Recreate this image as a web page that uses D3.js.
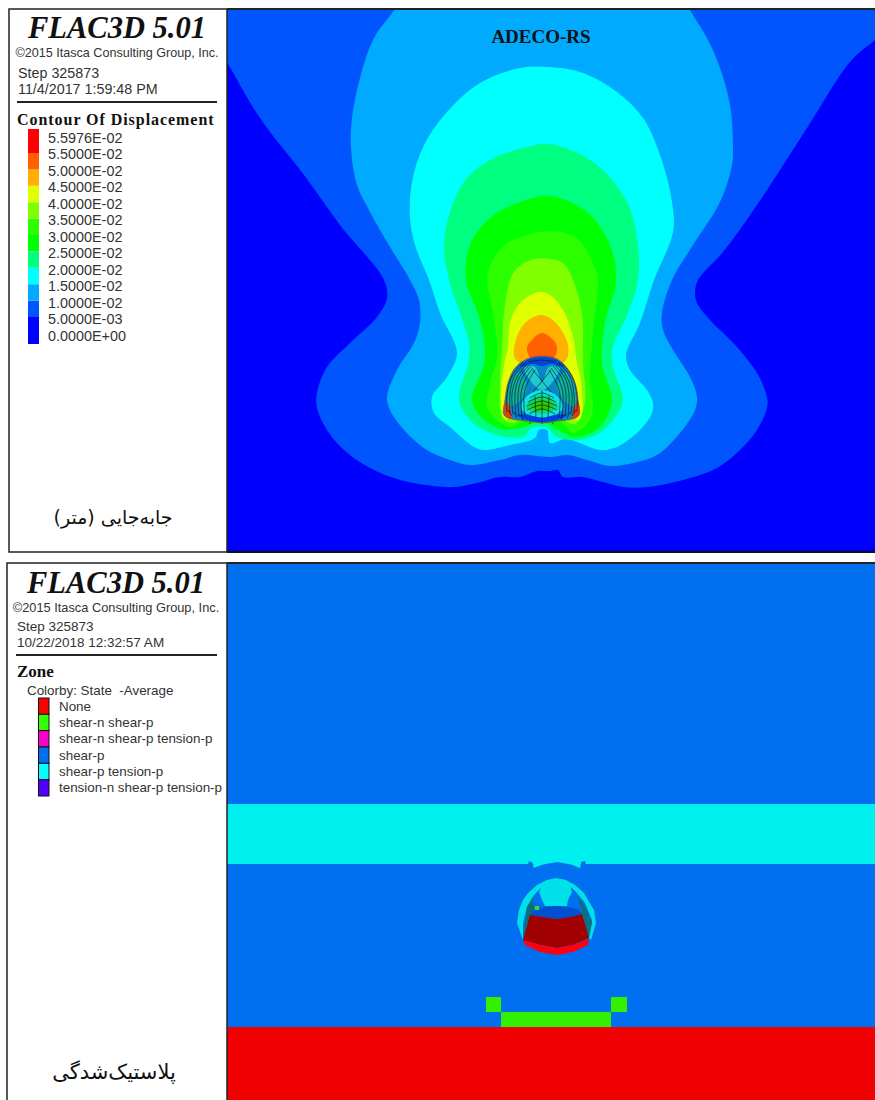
<!DOCTYPE html>
<html>
<head>
<meta charset="utf-8">
<script src="https://cdn.jsdelivr.net/npm/d3@7"></script>
<style>
	html, body { margin:0; padding:0; background:#fff; }
	svg { display:block; }
	.sans { font-family:"Liberation Sans",Arial,sans-serif; fill:#333; }
	.serif { font-family:"Liberation Serif",serif; fill:#111; font-weight:bold; }
	.fa { font-family:"DejaVu Sans",sans-serif; fill:#111; }
</style>
</head>
<body>
<div id="force_layout"></div>
<script>
// legend of the displacement panel
var contour_labels = ['5.5976E-02','5.5000E-02','5.0000E-02','4.5000E-02','4.0000E-02','3.5000E-02','3.0000E-02','2.5000E-02','2.0000E-02','1.5000E-02','1.0000E-02','5.0000E-03','0.0000E+00'];
var contour_breaks = [0,0.005,0.01,0.015,0.02,0.025,0.03,0.035,0.04,0.045,0.05,0.055,0.055976];
var contour_colors = ['#0000ff','#0055ff','#00aaff','#00ffff','#00ff80','#00ff00','#2bff00','#80ff00','#e0ff00','#ffb000','#ff6000','#ff0000'];

// contour outlines (model units, origin top left of panel)
var level_005 = [[-30,0],[-40,-30],[688,-30],[680,5],[648,30],[623,52],[580,118],[530,195],[496,242],[471,270],[468,283],[470,293],[483,310],[510,337],[530,363],[540,387],[540,398],[530,420],[513,440],[490,458],[456,470],[420,477],[396,477],[376,472],[356,467],[336,467],[331,460],[323,461],[310,461],[293,467],[273,467],[250,473],[227,477],[207,476],[173,470],[143,458],[117,440],[100,420],[90,398],[90,383],[100,357],[123,333],[150,307],[160,288],[157,270],[113,215],[77,165],[33,108],[0,52]];
var level_010 = [[182,-30],[167,0],[147,28],[133,68],[125,108],[124,138],[130,175],[143,202],[160,232],[183,270],[192,290],[193,313],[187,333],[170,360],[160,387],[163,400],[177,420],[200,440],[223,450],[243,455],[273,450],[293,445],[323,447],[341,445],[360,450],[383,456],[406,453],[430,445],[453,423],[468,400],[470,387],[463,367],[446,340],[436,320],[435,303],[445,270],[466,235],[493,192],[505,155],[506,135],[503,95],[493,58],[480,28],[463,0],[448,-30]];
var level_015 = [[323,57],[293,58],[253,73],[220,102],[197,135],[185,172],[183,208],[188,235],[202,270],[213,303],[230,343],[220,367],[205,387],[207,403],[223,417],[247,437],[257,440],[283,435],[308,428],[312,420],[320,420],[323,433],[339,429],[373,440],[390,437],[413,420],[425,403],[426,393],[420,380],[403,360],[399,345],[413,313],[427,270],[446,222],[445,192],[433,145],[416,108],[390,82],[356,63]];
var level_020 = [[323,134],[300,137],[267,148],[240,168],[223,202],[217,235],[222,270],[233,303],[242,333],[242,350],[232,390],[246,413],[270,425],[296,427],[305,418],[320,418],[330,427],[353,430],[373,423],[386,410],[396,390],[386,357],[386,337],[401,303],[411,270],[411,235],[400,192],[366,152]];
var level_025 = [[323,186],[293,192],[263,208],[243,235],[239,270],[253,310],[258,350],[245,390],[255,408],[275,419],[292,418],[315,412],[335,422],[346,427],[366,422],[378,410],[385,390],[375,353],[378,313],[389,270],[383,235],[360,202]];
var level_030 = [[323,221],[300,225],[277,235],[262,258],[260,270],[267,310],[270,347],[263,373],[260,397],[270,410],[283,417],[300,410],[330,410],[340,418],[346,423],[363,410],[366,393],[363,373],[365,333],[371,270],[368,258],[350,228]];
var level_035 = [[323,249],[307,249],[290,258],[283,270],[277,303],[275,337],[273,370],[275,407],[283,413],[300,408],[330,408],[345,414],[350,413],[358,393],[356,353],[355,303],[346,270],[336,253]];
var level_040 = [[323,285],[312,282],[293,293],[283,313],[281,337],[277,355],[274,385],[278,409],[300,400],[330,400],[352,410],[355,380],[349,347],[346,327],[336,300]];
var level_045 = [[323,308],[313,305],[298,313],[288,333],[289,350],[320,358],[339,350],[341,335],[333,318]];
var level_050 = [[315,323],[305,330],[300,338],[305,350],[325,350],[330,340],[328,332]];
var contour_levels = [level_005,level_010,level_015,level_020,level_025,level_030,level_035,level_040,level_045,level_050];

// tunnel section: outline and the small contours inside it
var tunnel_outline = [[315,346],[300,349],[288,358],[281,373],[278,390],[277,405],[285,409],[300,411],[315,413],[330,411],[345,409],[352,405],[351,390],[348,373],[340,358],[330,349]];
var tunnel_patches = [
	{color:'#0a86c8', pts:tunnel_outline},
	{color:'#0046d8', pts:[[300,350],[315,347],[330,350],[337,357],[325,354],[315,356],[305,354],[293,357]]},
	{color:'#20c8d0', pts:[[297,358],[308,357],[315,372],[322,357],[333,358],[322,376],[315,380],[308,376]]},
	{color:'#10b0a0', pts:[[284,372],[292,362],[300,376],[292,392],[282,396]]},
	{color:'#10b0a0', pts:[[346,372],[338,362],[330,376],[338,392],[348,396]]},
	{color:'#10e0e0', pts:[[294,398],[300,386],[315,380],[330,386],[336,398],[325,406],[305,406]]},
	{color:'#10d870', pts:[[299,397],[305,389],[315,385],[325,389],[331,397],[322,403],[308,403]]},
	{color:'#30c800', pts:[[304,396],[315,390],[326,396],[318,400],[312,400]]},
	{color:'#0040e0', pts:[[290,405],[302,405],[315,408],[328,405],[340,405],[330,410],[315,412],[300,410]]}
];
var tunnel_hot = [
	{color:'#e04010', pts:[[279,392],[278,405],[284,409],[283,398]]},
	{color:'#e04010', pts:[[351,392],[352,405],[346,409],[347,398]]}
];
var tunnel_stripes = [
	[[296,352],[285,366],[280,384],[280,402]],
	[[298,353],[287,367],[283,384],[283,403]],
	[[300,354],[290,367],[285,384],[286,404]],
	[[302,355],[292,368],[288,384],[289,405]],
	[[304,356],[295,368],[291,384],[292,406]],
	[[306,358],[298,370],[294,384],[295,406]],
	[[308,360],[301,372],[297,385],[298,407]],
	[[334,352],[345,366],[350,384],[350,402]],
	[[332,353],[343,367],[347,384],[347,403]],
	[[330,354],[340,367],[345,384],[344,404]],
	[[328,355],[338,368],[342,384],[341,405]],
	[[326,356],[335,368],[339,384],[338,406]],
	[[324,358],[332,370],[336,384],[335,406]],
	[[322,360],[329,372],[333,385],[332,407]],
	[[306,360],[315,371],[324,382]],
	[[324,360],[315,371],[306,382]],
	[[302,352],[315,350],[328,352]],
	[[303,388],[315,383],[327,388]],
	[[301,392],[315,387],[329,392]],
	[[300,396],[315,391],[330,396]],
	[[300,400],[315,395],[330,400]],
	[[302,404],[315,399],[328,404]],
	[[315,380],[315,410]],
	[[308,386],[309,408]],
	[[322,386],[321,408]],
	[[281,400],[285,406]],[[287,402],[290,408]],[[294,404],[296,410]],[[349,400],[345,406]],[[343,402],[340,408]],[[336,404],[334,410]],
	[[302,414],[304,412]],[[315,414],[315,411]],[[326,414],[325,412]]
];

// legend of the zone panel
var zone_labels = ['None','shear-n shear-p','shear-n shear-p tension-p','shear-p','shear-p tension-p','tension-n shear-p tension-p'];
var zone_colors = ['#ff0000','#33ff00','#ff00cc','#0070f0','#00ffff','#5000ff'];

// zone blocks (model units of the lower panel)
var band_tension = [[0,241],[648,241],[648,301],[0,301]];
var arc_horns = [[306,300],[306.5,305],[316,301.5],[330,300],[344,301.5],[353,305],[354,300]];
var arc_cut = [[316,301.5],[330,299],[344,301.5]];
var slit_left = [[301,301.5],[302,298],[306,300],[306,301.5]];
var slit_right = [[354,301.5],[354,299],[358,298],[359,301.5]];
var band_none = [[0,464],[648,464],[648,537],[0,537]];
var blocks_shear = [[259,434,274,449],[384,434,400,449],[274,449,384,464]];
var crown_ring = [[329,315],[320,317],[310,322],[301,330],[296,337],[292,347],[290,360],[296,377],[296,360],[300,344],[307,332],[314,325],[329,323],[345,325],[350,330],[358,340],[365,357],[362,375],[364,377],[369,360],[367,347],[361,337],[357,330],[348,322],[339,317]];
var crown_cap = [[316,322],[343,322],[345,329],[341,337],[340,343],[318,343],[315,337],[312,329]];
var side_left = [[296,375],[300,344],[306,334],[307,351],[302,358]];
var side_right = [[350,332],[358,343],[365,360],[362,374],[355,350]];
var crown_band = [[303,352],[308,347],[318,344],[330,343],[341,344],[351,346],[355,351],[343,354],[330,356],[316,354]];
var face_dark = [[303,352],[316,354],[330,356],[343,354],[355,351],[362,375],[346,382],[330,385],[313,382],[296,377]];
var face_bright = [[296,377],[313,382],[330,385],[346,382],[362,376],[361,382],[346,389],[330,392],[313,389],[298,382]];
var spot_green = [[308,343],[312,343],[312,347],[308,347]];

var top_panel = {y0:10, y1:552};
var bottom_panel = {y0:563, y1:1100};

var svg = d3.select('#force_layout').append('svg').attr('width',875).attr('height',1100);

var x = d3.scaleLinear().domain([0,648]).range([227,875]);
var y_top = d3.scaleLinear().domain([0,542]).range([top_panel.y0,top_panel.y1]);
var y_bottom = d3.scaleLinear().domain([0,537]).range([bottom_panel.y0,bottom_panel.y1]);

var defs = svg.append('defs');
defs.append('clipPath').attr('id','clip_top').append('rect')
	.attr('x',227).attr('y',top_panel.y0).attr('width',648).attr('height',top_panel.y1-top_panel.y0);
defs.append('clipPath').attr('id','clip_bottom').append('rect')
	.attr('x',227).attr('y',bottom_panel.y0).attr('width',648).attr('height',bottom_panel.y1-bottom_panel.y0);

function smooth(yscale) {
	return d3.line().x(function(d) { return x(d[0]); }).y(function(d) { return yscale(d[1]); })
		.curve(d3.curveCatmullRomClosed.alpha(0.5));
}
function straight(yscale) {
	return d3.line().x(function(d) { return x(d[0]); }).y(function(d) { return yscale(d[1]); });
}

// ---- top panel
var g1 = svg.append('g').attr('clip-path','url(#clip_top)');
g1.append('rect').attr('x',227).attr('y',top_panel.y0).attr('width',648).attr('height',542).attr('fill',contour_colors[0]);
g1.selectAll('path.level').data(contour_levels).enter().append('path')
	.attr('class','level')
	.attr('d',smooth(y_top))
	.attr('fill',function(d,i) { return contour_colors[i+1]; });

g1.selectAll('path.patch').data(tunnel_patches).enter().append('path')
	.attr('class','patch')
	.attr('d',function(d) { return smooth(y_top)(d.pts); })
	.attr('fill',function(d) { return d.color; });
g1.selectAll('path.hot').data(tunnel_hot).enter().append('path')
	.attr('class','hot')
	.attr('d',function(d) { return smooth(y_top)(d.pts); })
	.attr('fill',function(d) { return d.color; });
g1.selectAll('path.stripe').data(tunnel_stripes).enter().append('path')
	.attr('class','stripe')
	.attr('d',straight(y_top).curve(d3.curveCatmullRom))
	.attr('fill','none').attr('stroke','#000').attr('stroke-width',0.7).attr('opacity',0.8);
g1.append('path').datum(tunnel_outline)
	.attr('d',smooth(y_top)).attr('fill','none').attr('stroke','#a04010').attr('stroke-width',0.7);

svg.append('text').attr('class','serif').attr('x',x(314)).attr('y',43)
	.attr('text-anchor','middle').style('font-size','19px').text('ADECO-RS');

// ---- bottom panel
var g2 = svg.append('g').attr('clip-path','url(#clip_bottom)');
var line2 = straight(y_bottom);
function poly(pts,color) {
	g2.append('path').datum(pts).attr('d',function(d) { return line2(d)+'Z'; }).attr('fill',color);
}
g2.append('rect').attr('x',227).attr('y',bottom_panel.y0).attr('width',648).attr('height',537).attr('fill',zone_colors[3]);
poly(band_tension,'#00f0f0');
poly(arc_horns,'#00f0f0');
poly(arc_cut,zone_colors[3]);
poly(slit_left,zone_colors[3]);
poly(slit_right,zone_colors[3]);
poly(band_none,'#f00000');
g2.selectAll('rect.block').data(blocks_shear).enter().append('rect')
	.attr('class','block')
	.attr('x',function(d) { return x(d[0]); })
	.attr('y',function(d) { return y_bottom(d[1]); })
	.attr('width',function(d) { return x(d[2])-x(d[0]); })
	.attr('height',function(d) { return y_bottom(d[3])-y_bottom(d[1]); })
	.attr('fill','#33f000');
poly(crown_ring,'#00e0e8');
poly(crown_cap,'#00e0e8');
poly(side_left,'#0a7080');
poly(side_right,'#0a7080');
poly(crown_band,'#0050d0');
poly(face_dark,'#a00000');
poly(face_bright,'#ff0010');
poly(spot_green,'#40e010');

// ---- frames and left hand legends
function frame(x0,y0,y1) {
	svg.append('rect').attr('x',x0).attr('y',y0).attr('width',227-x0).attr('height',y1-y0)
		.attr('fill','#fff').attr('stroke','#222').attr('stroke-width',1.5);
	svg.append('line').attr('x1',227).attr('x2',875).attr('y1',y0).attr('y2',y0).attr('stroke','#222').attr('stroke-width',2);
	svg.append('line').attr('x1',227).attr('x2',875).attr('y1',y1).attr('y2',y1).attr('stroke','#111').attr('stroke-width',2);
}
frame(9,top_panel.y0-1,top_panel.y1);
frame(7,bottom_panel.y0,bottom_panel.y1+4);

function header(cx,lx,title_y,step_y,date,rule_y,x0,x1,sizes) {
	svg.append('text').attr('class','serif').attr('x',cx).attr('y',title_y).attr('text-anchor','middle')
		.style('font-size','30.5px').style('font-style','italic').text('FLAC3D 5.01');
	svg.append('text').attr('class','sans').attr('x',cx).attr('y',title_y+19).attr('text-anchor','middle')
		.style('font-size',sizes[0]+'px').text('©2015 Itasca Consulting Group, Inc.');
	svg.append('text').attr('class','sans').attr('x',lx).attr('y',step_y).style('font-size',sizes[1]+'px').text('Step 325873');
	svg.append('text').attr('class','sans').attr('x',lx).attr('y',step_y+16).style('font-size',sizes[1]+'px').text(date);
	svg.append('line').attr('x1',x0).attr('x2',x1).attr('y1',rule_y).attr('y2',rule_y).attr('stroke','#222').attr('stroke-width',2);
}
header(117,18,38,78,'11/4/2017 1:59:48 PM',102,17,217,[12.6,14.3]);
header(116,17,593,631,'10/22/2018 12:32:57 AM',655,16,217,[12.8,13.5]);

svg.append('text').attr('class','serif').attr('x',17).attr('y',125)
	.style('font-size','16px').style('letter-spacing','0.95px').text('Contour Of Displacement');

var y_legend = d3.scaleLinear().domain([0,0.005,0.055,0.055976]).range([344,317,153,129]);
svg.selectAll('rect.swatch').data(contour_colors).enter().append('rect')
	.attr('class','swatch')
	.attr('x',28).attr('width',11)
	.attr('y',function(d,i) { return y_legend(contour_breaks[i+1]); })
	.attr('height',function(d,i) { return y_legend(contour_breaks[i])-y_legend(contour_breaks[i+1]); })
	.attr('fill',function(d) { return d; });
var y_label = d3.scalePoint().domain(contour_labels).range([137.5,336]);
svg.selectAll('text.clabel').data(contour_labels).enter().append('text')
	.attr('class','sans clabel').attr('x',48)
	.attr('y',function(d) { return y_label(d)+5; })
	.style('font-size','14.4px').text(function(d) { return d; });

svg.append('text').attr('class','serif').attr('x',17).attr('y',677).style('font-size','17px').text('Zone');
svg.append('text').attr('class','sans').attr('x',27).attr('y',695).style('font-size','13.4px').style('white-space','pre').text('Colorby: State  -Average');

var y_zone = d3.scaleBand().domain(zone_labels).range([698,796]);
svg.selectAll('rect.zswatch').data(zone_labels).enter().append('rect')
	.attr('class','zswatch').attr('x',38.5).attr('width',10.5)
	.attr('y',function(d) { return y_zone(d); }).attr('height',y_zone.bandwidth())
	.attr('fill',function(d,i) { return zone_colors[i]; })
	.attr('stroke','#111').attr('stroke-width',1);
svg.selectAll('text.zlabel').data(zone_labels).enter().append('text')
	.attr('class','sans zlabel').attr('x',59)
	.attr('y',function(d) { return y_zone(d)+y_zone.bandwidth()/2+4.5; })
	.style('font-size','13.4px').text(function(d) { return d; });

svg.append('text').attr('class','fa').attr('x',113).attr('y',524).attr('text-anchor','middle')
	.attr('direction','rtl').style('font-size','19px').text('جابه‌جایی (متر)');
svg.append('text').attr('class','fa').attr('x',114).attr('y',1079).attr('text-anchor','middle')
	.attr('direction','rtl').style('font-size','21px').text('پلاستیک‌شدگی');
</script>
</body>
</html>
